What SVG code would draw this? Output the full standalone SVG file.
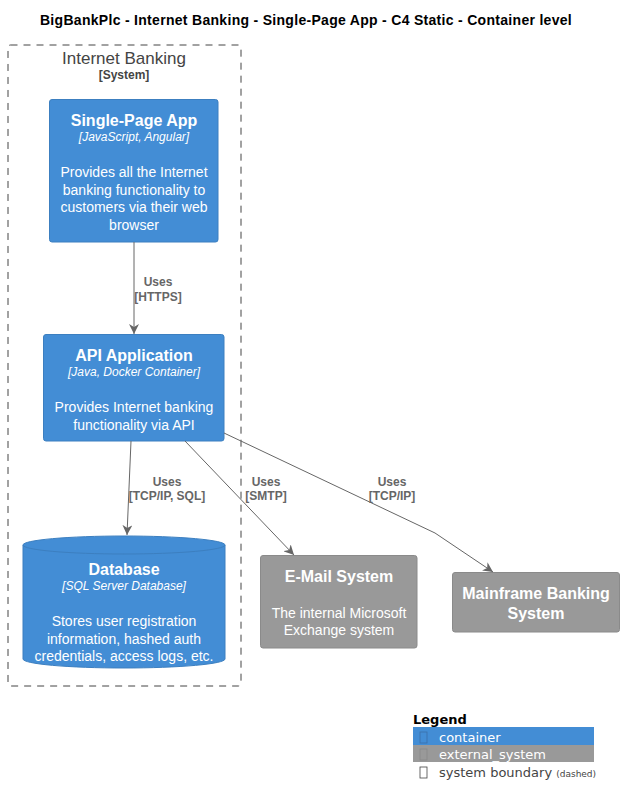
<svg xmlns="http://www.w3.org/2000/svg" width="624" height="806" viewBox="0 0 624 806">
<style>
text{font-family:"Liberation Sans",Arial,sans-serif}
.t{font-size:16px;font-weight:bold;fill:#fff;text-anchor:middle}
.s{font-size:12px;font-style:italic;fill:#fff;text-anchor:middle}
.d{font-size:14px;fill:#fff;text-anchor:middle}
.lbl{font-size:12px;font-weight:bold;fill:#666;text-anchor:middle}
.cont{fill:#438DD5;stroke:#3C7FC0;stroke-width:1}
.ext{fill:#999;stroke:#8A8A8A;stroke-width:1}
.conn{fill:none;stroke:#666;stroke-width:1}
.lg{font-family:"DejaVu Sans",sans-serif}
</style>
<defs>
<marker id="ah" viewBox="0 0 10 10" refX="10" refY="5" markerWidth="10" markerHeight="10" markerUnits="userSpaceOnUse" orient="auto">
<path d="M0,0 L10,5 L0,10 L3,5 Z" fill="#666"/>
</marker>
</defs>
<rect width="624" height="806" fill="#fff"/>
<text x="306" y="25" font-size="14" font-weight="bold" letter-spacing="0.3" text-anchor="middle" fill="#000">BigBankPlc - Internet Banking - Single-Page App - C4 Static - Container level</text>

<g id="boundary">
<rect x="8" y="45" width="233" height="641" rx="2.5" fill="none" stroke="#444" stroke-width="1" stroke-dasharray="7,6"/>
<text x="124" y="64" font-size="17" fill="#444" text-anchor="middle">Internet Banking</text>
<text x="124" y="79" font-size="12" font-weight="bold" fill="#444" text-anchor="middle">[System]</text>
</g>

<g id="spa">
<rect class="cont" x="49.5" y="99.5" width="168.5" height="142.5" rx="2.5"/>
<text class="t" x="134" y="126">Single-Page App</text>
<text class="s" x="134" y="141">[JavaScript, Angular]</text>
<text class="d" x="134" y="177">Provides all the Internet</text>
<text class="d" x="134" y="195">banking functionality to</text>
<text class="d" x="134" y="212">customers via their web</text>
<text class="d" x="134" y="230">browser</text>
</g>

<g id="api">
<rect class="cont" x="43.5" y="334.5" width="180.5" height="106.5" rx="2.5"/>
<text class="t" x="134" y="361">API Application</text>
<text class="s" x="134" y="376">[Java, Docker Container]</text>
<text class="d" x="134" y="412">Provides Internet banking</text>
<text class="d" x="134" y="430">functionality via API</text>
</g>

<g id="database">
<path class="cont" d="M23,545 a101,9 0 0 1 202,0 V659 a101,9 0 0 1 -202,0 Z"/>
<path d="M23,545 a101,9 0 0 0 202,0" fill="none" stroke="#3C7FC0" stroke-width="1"/>
<text class="t" x="124" y="575">Database</text>
<text class="s" x="124" y="590">[SQL Server Database]</text>
<text class="d" x="124" y="626">Stores user registration</text>
<text class="d" x="124" y="644">information, hashed auth</text>
<text class="d" x="124" y="661">credentials, access logs, etc.</text>
</g>

<g id="email">
<rect class="ext" x="260.5" y="555.5" width="156.5" height="92.5" rx="2.5"/>
<text class="t" x="339" y="582">E-Mail System</text>
<text class="d" x="339" y="618">The internal Microsoft</text>
<text class="d" x="339" y="635">Exchange system</text>
</g>

<g id="mainframe">
<rect class="ext" x="452.5" y="572.5" width="167" height="59.5" rx="2.5"/>
<text class="t" x="536" y="599">Mainframe Banking</text>
<text class="t" x="536" y="619">System</text>
</g>

<g id="connectors">
<path class="conn" d="M134,242 L134,334" marker-end="url(#ah)"/>
<text class="lbl" x="158" y="286">Uses</text>
<text class="lbl" x="158" y="301">[HTTPS]</text>
<path class="conn" d="M131,441 L127,535" marker-end="url(#ah)"/>
<text class="lbl" x="167" y="486">Uses</text>
<text class="lbl" x="167" y="500">[TCP/IP, SQL]</text>
<path class="conn" d="M185,441 L294,555" marker-end="url(#ah)"/>
<text class="lbl" x="266" y="486">Uses</text>
<text class="lbl" x="266" y="500">[SMTP]</text>
<path class="conn" d="M224,433 L435,533 L493,572" marker-end="url(#ah)"/>
<text class="lbl" x="392" y="486">Uses</text>
<text class="lbl" x="392" y="500">[TCP/IP]</text>
</g>

<g id="legend">
<text class="lg" x="413" y="724" font-size="13" font-weight="bold" fill="#000">Legend</text>
<rect x="413" y="727" width="181" height="18" fill="#438DD5"/>
<rect x="413" y="745" width="181" height="17" fill="#999"/>
<rect x="420" y="732" width="7" height="11" fill="none" stroke="#3a6fa8" stroke-width="0.8"/>
<rect x="420" y="749" width="7" height="11" fill="none" stroke="#888" stroke-width="0.8"/>
<rect x="420" y="767" width="7" height="11" fill="none" stroke="#444" stroke-width="0.8"/>
<text class="lg" x="439" y="742" font-size="13" fill="#fff">container</text>
<text class="lg" x="439" y="759" font-size="13" fill="#fff">external_system</text>
<text class="lg" x="439" y="777" font-size="13" fill="#444">system boundary <tspan font-size="9">(dashed)</tspan></text>
</g>
</svg>
